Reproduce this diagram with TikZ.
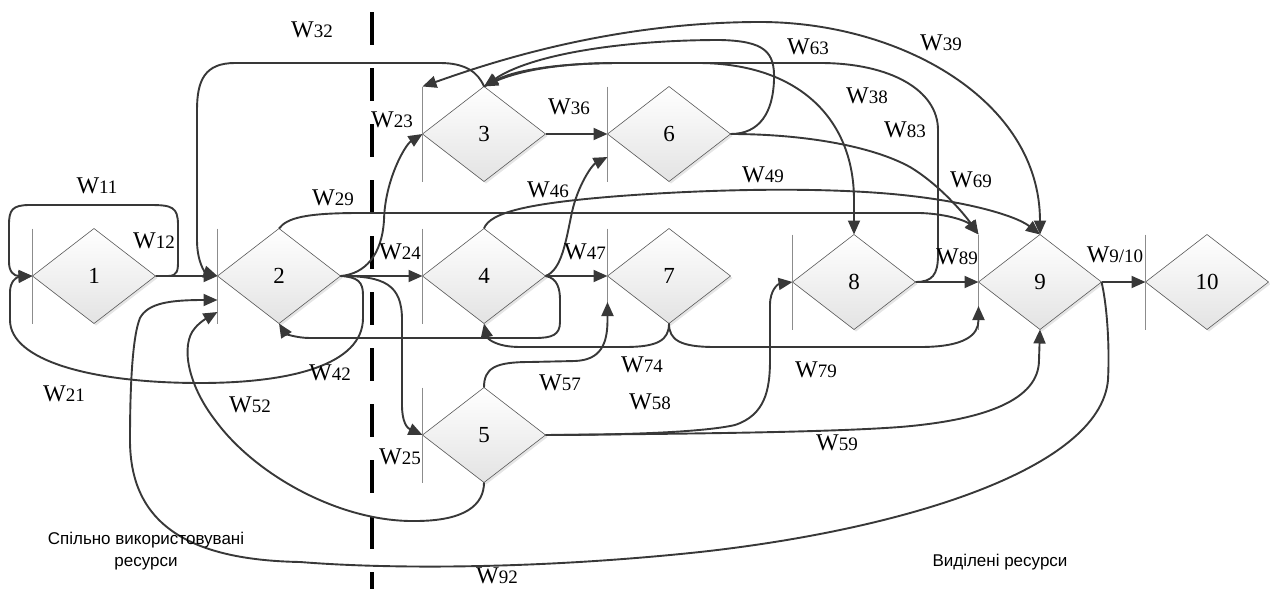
\documentclass[tikz,border=0pt]{standalone}
\usepackage{fontspec}
\setmainfont{Liberation Serif}
\newfontfamily\sansf{Liberation Sans}
\usetikzlibrary{arrows.meta,shapes.geometric,shadows}
\newcommand\wlab[1]{W{\fontsize{19}{19}\selectfont #1}}
\tikzset{
  dia/.style={diamond, draw=black!65, line width=0.6pt, minimum width=123pt, minimum height=95pt,
    inner sep=0pt, outer sep=0pt, top color=white, bottom color=black!11,
    drop shadow={shadow xshift=2pt, shadow yshift=-2pt, fill=black!20},
    font=\fontsize{23}{23}\selectfont},
  con/.style={draw=black!78, line width=1.9pt, line join=round, -{Triangle[length=14pt,width=12pt]}},
  biarrow/.style={draw=black!78, line width=1.9pt, line join=round, {Triangle[length=14pt,width=12pt]}-{Triangle[length=14pt,width=12pt]}},
  bar/.style={draw=black!45, line width=1pt},
  lab/.style={inner sep=0pt, font=\fontsize{24}{24}\selectfont},
  captext/.style={inner sep=0pt, font=\sansf\fontsize{17}{22}\selectfont, align=center},
  divider/.style={draw=black, line width=4pt, dash pattern=on 33pt off 23pt}
}
\begin{document}
\begin{tikzpicture}[x=1pt,y=-1pt]
\useasboundingbox (0,0) rectangle (1270,589);
% divider
\draw[divider] (372,12) -- (372,589);
% nodes
\node[dia] (n1) at (94,276) {1};
\node[dia] (n2) at (279,276) {2};
\node[dia] (n3) at (484,134) {3};
\node[dia] (n4) at (484,276) {4};
\node[dia] (n5) at (484,435) {5};
\node[dia] (n6) at (669,134) {6};
\node[dia] (n7) at (669,276) {7};
\node[dia] (n8) at (854,282) {8};
\node[dia] (n9) at (1040,282) {9};
\node[dia] (n10) at (1207,282) {10};
% bars
\foreach \n in {n1,n2,n3,n4,n5,n6,n7,n8,n9,n10}
  \draw[bar] (\n.west |- \n.north) -- (\n.west |- \n.south);
% helper coordinates on bars
\coordinate (b3t) at (n3.west |- n3.north);
\coordinate (b9t) at (n9.west |- n9.north);
\coordinate (b6a) at (607.5,157);
\coordinate (b7a) at (607.5,302);
\coordinate (b9a) at (978.5,306);
\coordinate (b2a) at (217.5,300);
\coordinate (b2b) at (217.5,312);
% connectors
\draw[con] (n1.east) -- (168,276) .. controls (178,276) and (178,270) .. (178,260) -- (178,225)
  .. controls (178,207) and (172,205) .. (150,205) -- (30,205) .. controls (12,205) and (9,210) .. (9,225)
  -- (9,262) .. controls (9,272) and (14,276) .. (n1.west);
\draw[con] (n1.east) -- (n2.west);
\draw[con] (n2.east) .. controls (358,277) and (363,282) .. (363,295) -- (363,318)
  .. controls (363,365) and (290,383) .. (200,383) .. controls (90,383) and (10,360) .. (10,320)
  -- (10,292) .. controls (10,282) and (16,277) .. (n1.west);
\draw[con] (n3.north) .. controls (478,72) and (465,63) .. (440,63) -- (235,63)
  .. controls (205,63) and (197,80) .. (197,110) -- (197,240) .. controls (197,262) and (205,272) .. (n2.west);
\draw[con] (n2.east) .. controls (365,274) and (382,255) .. (384,220) .. controls (385,180) and (405,145) .. (n3.west);
\draw[con] (n2.east) -- (n4.west);
\draw[con] (n2.east) .. controls (385,276) and (402,285) .. (402,320) -- (402,405) .. controls (402,422) and (407,428) .. (n5.west);
\draw[con] (n2.north) .. controls (287,218) and (305,213) .. (360,213) -- (920,213) .. controls (950,214) and (968,222) .. (b9t);
\draw[con] (n3.east) -- (n6.west);
\draw[con] (n4.east) .. controls (562,270) and (566,240) .. (572,212) .. controls (578,185) and (592,165) .. (b6a);
\draw[con] (n4.east) -- (n7.west);
\draw[con] (n4.east) .. controls (558,278) and (560,290) .. (560,300) -- (560,322) .. controls (560,335) and (552,338) .. (535,338)
  -- (310,338) .. controls (295,338) and (285,333) .. (n2.south);
\draw[con] (n7.south) .. controls (669,340) and (658,347) .. (625,347) -- (520,347) .. controls (495,347) and (487,338) .. (n4.south);
\draw[con] (n7.south) .. controls (669,340) and (680,347) .. (715,347) -- (920,347) .. controls (965,347) and (978.5,335) .. (978.5,320) -- (b9a);
\draw[con] (n5.north) .. controls (484,368) and (495,362) .. (530,362) -- (575,361) .. controls (600,360) and (607.5,345) .. (607.5,320) -- (b7a);
\draw[con] (n5.east) .. controls (610,435) and (700,433) .. (735,425) .. controls (765,415) and (770,390) .. (770,360)
  -- (770,305) .. controls (770,290) and (778,284) .. (n8.west);
\draw[con] (n5.east) .. controls (650,434) and (820,433) .. (900,427) .. controls (985,420) and (1039,400) .. (1039,360) -- (n9.south);
\draw[con] (n5.south) .. controls (484,505) and (465,521) .. (415,521) .. controls (340,522) and (255,475) .. (215,420)
  .. controls (188,385) and (180,345) .. (195,328) .. controls (200,322) and (207,318) .. (b2b);
\draw[con] (n9.east) .. controls (1106,300) and (1110,340) .. (1108,380) .. controls (1100,470) and (900,530) .. (700,552)
  .. controls (550,568) and (400,570) .. (300,562) .. controls (190,560) and (130,525) .. (130,440)
  .. controls (130,380) and (133,335) .. (140,318) .. controls (148,303) and (170,300) .. (b2a);
\draw[con] (n6.east) .. controls (760,134) and (773,112) .. (774,80) .. controls (775,52) and (765,41) .. (720,40)
  .. controls (620,40) and (530,55) .. (n3.north);
\draw[con] (n3.north) .. controls (515,70) and (560,63) .. (620,63) -- (700,63) .. controls (800,64) and (854,120) .. (854,200) -- (n8.north);
\draw[con] (n8.east) .. controls (932,282) and (938,275) .. (938,255) -- (938,130) .. controls (938,90) and (890,63) .. (820,63)
  -- (620,63) .. controls (560,63) and (515,70) .. (n3.north);
\draw[biarrow] (b3t) .. controls (470,70) and (600,22) .. (760,22) .. controls (900,22) and (1040,100) .. (n9.north);
\draw[con] (n6.east) .. controls (800,134) and (870,145) .. (910,167) .. controls (940,185) and (965,215) .. (b9t);
\draw[con] (n4.north) .. controls (490,212) and (530,203) .. (620,196) .. controls (700,190) and (800,187) .. (880,193)
  .. controls (960,199) and (1015,215) .. (n9.north);
\draw[con] (n8.east) -- (n9.west);
\draw[con] (n9.east) -- (n10.west);
% labels
\node[lab] (l11) at (97,186) {\wlab{11}};
\node[lab] (l12) at (154,241) {\wlab{12}};
\node[lab] (l21) at (64,394) {\wlab{21}};
\node[lab] (l32) at (312,30) {\wlab{32}};
\node[lab] (l29) at (333,198) {\wlab{29}};
\node[lab] (l42) at (330,373) {\wlab{42}};
\node[lab] (l52) at (250,405) {\wlab{52}};
\node[lab] (l23) at (392,120) {\wlab{23}};
\node[lab] (l24) at (400,252) {\wlab{24}};
\node[lab] (l25) at (400,457) {\wlab{25}};
\node[lab] (l36) at (569,107) {\wlab{36}};
\node[lab] (l46) at (548,190) {\wlab{46}};
\node[lab] (l47) at (585,252) {\wlab{47}};
\node[lab] (l74) at (642,365) {\wlab{74}};
\node[lab] (l57) at (560,383) {\wlab{57}};
\node[lab] (l58) at (650,402) {\wlab{58}};
\node[lab] (l63) at (808,47) {\wlab{63}};
\node[lab] (l39) at (941,43) {\wlab{39}};
\node[lab] (l38) at (867,96) {\wlab{38}};
\node[lab] (l83) at (905,130) {\wlab{83}};
\node[lab] (l49) at (763,175) {\wlab{49}};
\node[lab] (l69) at (971,180) {\wlab{69}};
\node[lab] (l89) at (957,257) {\wlab{89}};
\node[lab] (l910) at (1115,255) {\wlab{9/10}};
\node[lab] (l79) at (816,370) {\wlab{79}};
\node[lab] (l59) at (837,443) {\wlab{59}};
\node[lab] (l92) at (497,576) {\wlab{92}};
\node[captext] (shared) at (146,551) {Спільно використовувані\\ресурси};
\node[captext] (dedicated) at (1000,562) {Виділені ресурси};
\end{tikzpicture}
\end{document}
